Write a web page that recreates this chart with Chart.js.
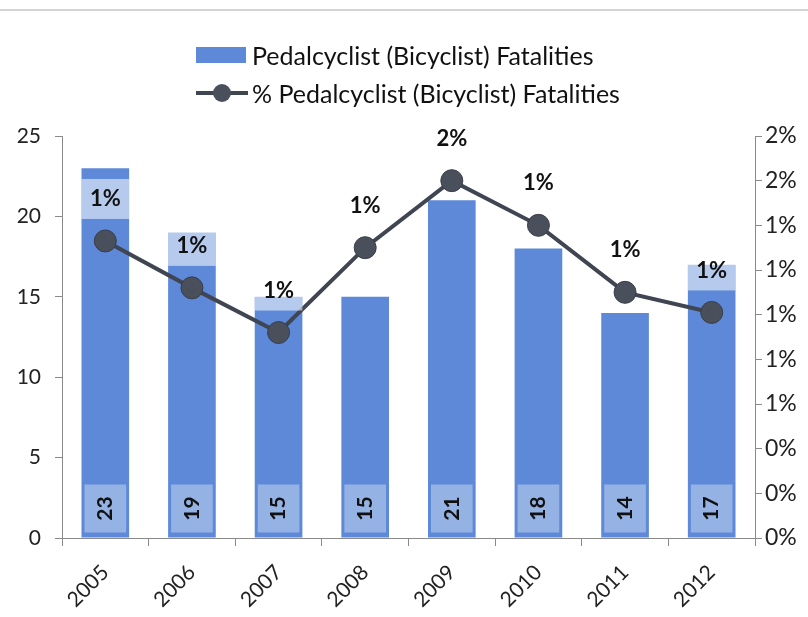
<!DOCTYPE html>
<html>
<head>
<meta charset="utf-8">
<title>Pedalcyclist Fatalities</title>
<script src="https://cdn.jsdelivr.net/npm/chart.js@4"></script>
<style>
  body { margin: 0; background: #fff; width: 808px; height: 617px; overflow: hidden; position: relative; font-family: Lato, sans-serif; }
  .topline { position: absolute; left: 0; top: 9px; width: 808px; height: 2px; background: #d4d4d4; }
  #legend { position: absolute; left: 196px; top: 36px; font-size: 25px; color: #111; }
  .row { height: 38px; display: flex; align-items: center; }
  .box { width: 50px; height: 16px; background: #5d89d8; margin-right: 6px; }
  .lineSym { position: relative; width: 52px; height: 18px; margin-right: 4px; }
  .lineSym:before { content: ''; position: absolute; left: 0; right: 0; top: 7px; height: 4px; background: #404552; }
  .lineSym:after { content: ''; position: absolute; left: 17px; top: 0; width: 18px; height: 18px; border-radius: 50%; background: #4a4f5c; }
  #wrap { position: absolute; left: 0; top: 0; width: 808px; height: 617px; }
</style>
</head>
<body>
<div class="topline"></div>
<div id="wrap"><canvas id="combo" width="808" height="617"></canvas></div>
<div id="legend">
  <div class="row"><span class="box"></span><span>Pedalcyclist (Bicyclist) Fatalities</span></div>
  <div class="row"><span class="lineSym"></span><span>% Pedalcyclist (Bicyclist) Fatalities</span></div>
</div>
<script>
const years = ['2005', '2006', '2007', '2008', '2009', '2010', '2011', '2012'];
const fatalities = [23, 19, 15, 15, 21, 18, 14, 17];
// percent of all traffic fatalities
const fatalityPct = [1.33, 1.12, 0.92, 1.30, 1.60, 1.40, 1.10, 1.01];

const barBlue = '#5d89d8';
const lineGray = '#404552';

// draws the white-ish label boxes + values like the excel data labels
const labelPlugin = {
  id: 'valueLabels',
  afterDatasetsDraw(chart) {
    const ctx = chart.ctx;
    const bars = chart.getDatasetMeta(0).data;
    const points = chart.getDatasetMeta(1).data;

    ctx.save();
    bars.forEach((bar, i) => {
      const w = bar.width;
      ctx.fillStyle = 'rgba(255,255,255,0.35)';
      ctx.fillRect(bar.x - w / 2 + 3, bar.base - 53, w - 6, 48);
      ctx.save();
      ctx.translate(bar.x, bar.base - 29);
      ctx.rotate(-Math.PI / 2);
      ctx.fillStyle = '#111';
      ctx.font = 'bold 21px Lato, sans-serif';
      ctx.textAlign = 'center';
      ctx.textBaseline = 'middle';
      ctx.fillText(fatalities[i], 0, 0);
      ctx.restore();
    });

    points.forEach((pt, i) => {
      const w = bars[i].width;
      ctx.fillStyle = 'rgba(255,255,255,0.55)';
      ctx.fillRect(pt.x - w / 2, pt.y - 62, w, 40);
      ctx.fillStyle = '#111';
      ctx.font = 'bold 22px Lato, sans-serif';
      ctx.textAlign = 'center';
      ctx.textBaseline = 'middle';
      ctx.fillText(Math.round(fatalityPct[i]) + '%', pt.x, pt.y - 42);
    });
    ctx.restore();
  }
};

new Chart(document.getElementById('combo'), {
  type: 'bar',
  data: {
    labels: years,
    datasets: [
      {
        type: 'bar',
        label: 'Pedalcyclist (Bicyclist) Fatalities',
        data: fatalities,
        backgroundColor: barBlue,
        barPercentage: 0.55,
        categoryPercentage: 1,
        yAxisID: 'y',
        order: 1
      },
      {
        type: 'line',
        label: '% Pedalcyclist (Bicyclist) Fatalities',
        data: fatalityPct,
        borderColor: lineGray,
        borderWidth: 4,
        pointRadius: 11,
        pointBackgroundColor: '#4a4f5c',
        pointBorderColor: '#3a3e48',
        pointBorderWidth: 1,
        tension: 0,
        yAxisID: 'y1',
        order: 0
      }
    ]
  },
  options: {
    responsive: false,
    animation: false,
    layout: { padding: { top: 136, left: 0, right: 0, bottom: 0 } },
    plugins: {
      legend: { display: false },
      tooltip: { enabled: false }
    },
    scales: {
      x: {
        grid: { offset: true, drawOnChartArea: false, tickLength: 8, color: '#8a8a8a' },
        border: { color: '#8a8a8a' },
        ticks: { color: '#222', font: { size: 21, family: 'Lato' }, maxRotation: 45, minRotation: 45, padding: 14 },
        afterFit(s) { s.height = 79; }
      },
      y: {
        position: 'left',
        min: 0,
        max: 25,
        ticks: { stepSize: 5, color: '#222', font: { size: 21, family: 'Lato' }, padding: 14 },
        grid: { drawOnChartArea: false, tickLength: 7, color: '#8a8a8a' },
        border: { color: '#8a8a8a' },
        afterFit(s) { s.width = 62; }
      },
      y1: {
        position: 'right',
        min: 0,
        max: 1.8,
        ticks: {
          stepSize: 0.2,
          color: '#222',
          font: { size: 23, family: 'Lato' },
          padding: 3,
          callback: v => Math.round(v) + '%'
        },
        grid: { drawOnChartArea: false, tickLength: 7, color: '#8a8a8a' },
        border: { color: '#8a8a8a' },
        afterFit(s) { s.width = 53; }
      }
    }
  },
  plugins: [labelPlugin]
});
</script>
</body>
</html>
